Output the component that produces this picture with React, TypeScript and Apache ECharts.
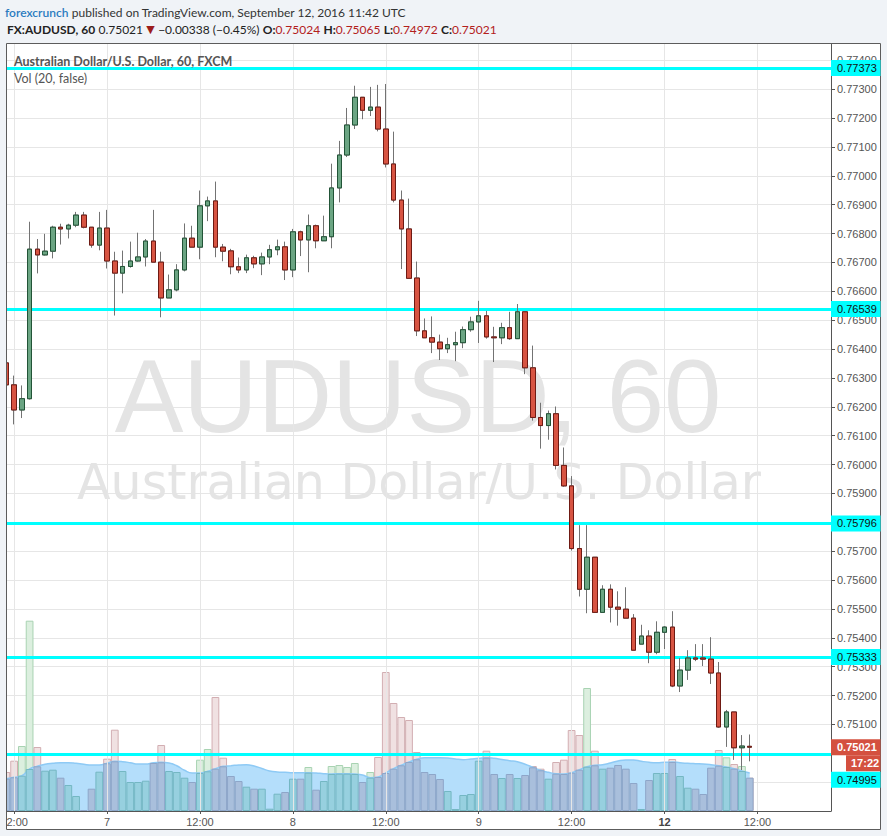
import React, { useEffect, useRef } from "react";
import * as echarts from "echarts";

// ---- data (hourly AUDUSD candles, FXCM) ----
const OPEN = [
  0.76352, 0.76276, 0.76189, 0.76228, 0.76746, 0.76726, 0.76739, 0.76822, 0.76816, 0.76829,
  0.76864, 0.76822, 0.7676, 0.76819, 0.76705, 0.76663, 0.76686, 0.76705, 0.76719, 0.76774,
  0.76701, 0.76577, 0.76605, 0.76674, 0.76784, 0.76753, 0.76896, 0.76913, 0.76753, 0.7674,
  0.76685, 0.76674, 0.76716, 0.76695, 0.76719, 0.76744, 0.76754, 0.76674, 0.76806, 0.76778,
  0.76827, 0.76775, 0.76789, 0.76958, 0.77072, 0.77176, 0.77272, 0.77227, 0.77238, 0.77162,
  0.77041, 0.76916, 0.76816, 0.76646, 0.76463, 0.76439, 0.76424, 0.76401, 0.76415, 0.76422,
  0.76467, 0.76494, 0.76515, 0.76442, 0.76439, 0.76474, 0.76436, 0.76529, 0.76335, 0.76163,
  0.76135, 0.76176, 0.75997, 0.75926, 0.75709, 0.75568, 0.75679, 0.75488, 0.75568, 0.75506,
  0.75499, 0.75468, 0.75378, 0.75406, 0.7535, 0.75419, 0.75437, 0.75233, 0.75288, 0.7533,
  0.7533, 0.75326, 0.75278, 0.75091, 0.75143, 0.75019, 0.75024,
];
const CLOSE = [
  0.76276, 0.76189, 0.76228, 0.76746, 0.76726, 0.76739, 0.76822, 0.76816, 0.76829, 0.76864,
  0.76822, 0.7676, 0.76819, 0.76705, 0.76663, 0.76686, 0.76705, 0.76719, 0.76774, 0.76701,
  0.76577, 0.76605, 0.76674, 0.76784, 0.76753, 0.76896, 0.76913, 0.76753, 0.76739, 0.76685,
  0.76674, 0.76716, 0.76695, 0.76719, 0.76744, 0.76754, 0.76674, 0.76806, 0.76778, 0.76827,
  0.76775, 0.76789, 0.76958, 0.77072, 0.77176, 0.77272, 0.77227, 0.77238, 0.77162, 0.77041,
  0.76916, 0.76816, 0.76645, 0.76463, 0.76439, 0.76424, 0.76401, 0.76415, 0.76422, 0.76467,
  0.76494, 0.76515, 0.76442, 0.76439, 0.76474, 0.76436, 0.76529, 0.76335, 0.76163, 0.76135,
  0.76176, 0.75997, 0.75926, 0.75709, 0.75568, 0.75679, 0.75488, 0.75568, 0.75506, 0.75499,
  0.75468, 0.75357, 0.75406, 0.7535, 0.75419, 0.75437, 0.75233, 0.75288, 0.7533, 0.75326,
  0.75326, 0.75278, 0.75091, 0.75143, 0.75019, 0.75025, 0.75021,
];
const LOW = [
  0.76266, 0.76139, 0.76161, 0.76225, 0.76662, 0.76724, 0.76714, 0.76762, 0.76783, 0.76822,
  0.76818, 0.76751, 0.76742, 0.76679, 0.76516, 0.76593, 0.76682, 0.76703, 0.76686, 0.76701,
  0.7651, 0.76577, 0.766, 0.76669, 0.76753, 0.76711, 0.76843, 0.76718, 0.76704, 0.76659,
  0.76663, 0.76663, 0.7668, 0.76656, 0.76694, 0.76725, 0.76639, 0.76649, 0.76722, 0.76666,
  0.76749, 0.76775, 0.76749, 0.76908, 0.77065, 0.77162, 0.77196, 0.77207, 0.77154, 0.77029,
  0.76908, 0.76677, 0.76643, 0.76445, 0.76439, 0.76386, 0.76362, 0.76386, 0.76358, 0.76403,
  0.7646, 0.76421, 0.76436, 0.76355, 0.76417, 0.76432, 0.76436, 0.76313, 0.76152, 0.76055,
  0.76086, 0.75983, 0.75923, 0.75702, 0.75543, 0.75485, 0.75488, 0.75488, 0.75453, 0.75442,
  0.75468, 0.75357, 0.75378, 0.75312, 0.75343, 0.75361, 0.75229, 0.75212, 0.75254, 0.75319,
  0.75302, 0.7524, 0.75088, 0.75022, 0.74977, 0.74942, 0.74972,
];
const HIGH = [
  0.76359, 0.76308, 0.76274, 0.76841, 0.76781, 0.76799, 0.76827, 0.76834, 0.76834, 0.76875,
  0.76875, 0.76822, 0.76875, 0.76882, 0.76737, 0.76741, 0.76772, 0.76803, 0.76781, 0.76882,
  0.76737, 0.76658, 0.76694, 0.76835, 0.76827, 0.76949, 0.76928, 0.7698, 0.76764, 0.76747,
  0.76717, 0.76727, 0.76723, 0.76734, 0.76761, 0.76779, 0.76772, 0.76816, 0.7681, 0.76866,
  0.76831, 0.76862, 0.77042, 0.77121, 0.77235, 0.77312, 0.77272, 0.77308, 0.77315, 0.77318,
  0.77153, 0.76949, 0.76921, 0.76703, 0.76506, 0.76513, 0.7645, 0.76439, 0.7646, 0.76478,
  0.76512, 0.76567, 0.76532, 0.76477, 0.76491, 0.76529, 0.76556, 0.76529, 0.76412, 0.76214,
  0.76187, 0.76201, 0.76059, 0.7596, 0.7579, 0.7579, 0.75679, 0.75582, 0.75585, 0.75561,
  0.75575, 0.75482, 0.75445, 0.75426, 0.75457, 0.7544, 0.75492, 0.7533, 0.75357, 0.75378,
  0.75378, 0.75402, 0.75316, 0.7515, 0.75143, 0.75063, 0.75065,
];
const VOLUME = [
  390, 503, 650, 1903, 640, 403, 413, 333, 260, 150,
  10, 223, 393, 523, 813, 400, 290, 290, 303, 480,
  660, 400, 390, 333, 290, 513, 620, 1140, 533, 350,
  300, 243, 223, 223, 23, 173, 190, 323, 323, 440,
  213, 300, 450, 460, 440, 480, 290, 390, 540, 1390,
  1080, 940, 910, 590, 390, 370, 320, 200, 20, 160,
  170, 503, 603, 370, 330, 370, 330, 360, 450, 423,
  323, 490, 513, 810, 760, 1230, 603, 423, 433, 460,
  423, 280, 20, 310, 380, 380, 520, 350, 233, 223,
  170, 433, 610, 537, 470, 450, 333,
];
const VOLUME_MA = [
  323, 337, 353, 420, 447, 467, 477, 483, 483, 477,
  467, 460, 460, 477, 497, 493, 483, 470, 470, 483,
  487, 480, 453, 407, 380, 380, 397, 423, 447, 453,
  460, 463, 450, 425, 400, 390, 387, 383, 383, 383,
  380, 373, 370, 373, 373, 370, 360, 333, 340, 380,
  423, 457, 490, 517, 533, 533, 533, 530, 520, 513,
  520, 527, 533, 527, 515, 503, 493, 467, 437, 407,
  387, 373, 370, 383, 413, 443, 457, 463, 480, 500,
  510, 510, 497, 487, 483, 487, 490, 483, 477, 473,
  470, 463, 453, 440, 423, 400, 380,
];
const LEVELS = [0.77373, 0.76539, 0.75796, 0.75333, 0.74995];
const LAST_PRICE = 0.75021;
const COUNTDOWN = "17:22";
const X_LABELS: Record<string, string> = {
  "09-06 12:00": "12:00",
  "09-07 00:00": "7",
  "09-07 12:00": "12:00",
  "09-08 00:00": "8",
  "09-08 12:00": "12:00",
  "09-09 00:00": "9",
  "09-09 12:00": "12:00",
  "09-12 00:00": "{b|12}",
  "09-12 12:00": "12:00",
};
const SLOT_COUNT = 107;
const PRICE_MIN = 0.748;
const PRICE_MAX = 0.7746;
const PRICE_STEP = 0.001;
const VOL_AXIS_MAX = 7680;

// hourly slots starting 6 Sep 2016 11:00 UTC, market closed Fri 21:00 - Sun 21:00
function buildSlots(count: number): string[] {
  const out: string[] = [];
  let t = Date.UTC(2016, 8, 6, 11);
  const p = (n: number) => String(n).padStart(2, "0");
  while (out.length < count) {
    const d = new Date(t);
    const day = d.getUTCDay();
    const h = d.getUTCHours();
    const closed = (day === 5 && h >= 21) || day === 6 || (day === 0 && h < 21);
    if (!closed) out.push(`${p(d.getUTCMonth() + 1)}-${p(d.getUTCDate())} ${p(h)}:00`);
    t += 3600000;
  }
  return out;
}

const PAGE_BG = "#f0f3f7";
const UP = "#6ba583";
const DOWN = "#d75442";
const UP_BORDER = "#225437";
const DOWN_BORDER = "#6f1a13";
const WICK = "#737373";
const UI_FONT = "Lato";
const AXIS_FONT = "Liberation Sans";

function buildOption() {
  const cats = buildSlots(SLOT_COUNT);
  const isUp = (i: number) => CLOSE[i] >= OPEN[i];
  const wickData = OPEN.map((o, i) => [o, CLOSE[i], LOW[i], HIGH[i]]);
  const bodyData = OPEN.map((o, i) => [o, CLOSE[i], Math.min(o, CLOSE[i]), Math.max(o, CLOSE[i])]);
  const volFull = VOLUME.map((v, i) => ({
    value: v,
    itemStyle: isUp(i)
      ? { color: "#dcefdf", borderColor: "#a8d3b2", borderWidth: 1 }
      : { color: "#f0e1e2", borderColor: "#d2aeb2", borderWidth: 1 },
  }));
  const volLow = VOLUME.map((v, i) => ({
    value: Math.min(v, VOLUME_MA[i]),
    itemStyle: isUp(i)
      ? { color: "#97d0df", borderColor: "#74b7c3", borderWidth: 1 }
      : { color: "#a9bfdc", borderColor: "#8ea6c9", borderWidth: 1 },
  }));
  const labelShown = (_: number, v: string) => v in X_LABELS;

  return {
    animation: false,
    backgroundColor: "#ffffff",
    grid: { left: 2.5, right: 56, top: 43, bottom: 25, outerBoundsMode: "none", containLabel: false },
    xAxis: {
      type: "category",
      data: cats,
      boundaryGap: true,
      axisLine: { show: true, lineStyle: { color: "#555555", width: 1 } },
      axisTick: { show: true, alignWithLabel: true, interval: labelShown, length: 3, lineStyle: { color: "#555555" } },
      axisLabel: {
        interval: labelShown,
        formatter: (v: string) => X_LABELS[v] ?? "",
        color: "#555555",
        fontSize: 11,
        fontFamily: AXIS_FONT,
        margin: 5,
        rich: { b: { fontWeight: "bold", fontSize: 11, fontFamily: AXIS_FONT, color: "#444444" } },
      },
      splitLine: { show: false },
    },
    yAxis: [
      {
        type: "value",
        position: "right",
        min: PRICE_MIN,
        max: PRICE_MAX,
        interval: PRICE_STEP,
        axisLine: { show: true, lineStyle: { color: "#555555", width: 1 } },
        axisTick: { show: true, length: 4, lineStyle: { color: "#555555" } },
        axisLabel: {
          color: "#555555",
          fontSize: 11,
          fontFamily: AXIS_FONT,
          margin: 6,
          showMaxLabel: false,
          showMinLabel: false,
          formatter: (v: number) => (v < 0.7505 ? "" : v.toFixed(5)),
        },
        splitLine: { show: true, lineStyle: { color: "#e6e6e6", width: 1 } },
      },
      { type: "value", min: 0, max: VOL_AXIS_MAX, show: false, splitLine: { show: false } },
    ],
    series: [
      {
        name: "grid",
        type: "line",
        data: [],
        z: 1,
        silent: true,
        markLine: {
          silent: true,
          symbol: ["none", "none"],
          label: { show: false },
          emphasis: { disabled: true },
          lineStyle: { color: "#e6e6e6", width: 1, type: "solid" },
          data: Object.keys(X_LABELS).map((k) => ({ xAxis: k })),
        },
      },
      {
        name: "Vol",
        type: "bar",
        yAxisIndex: 1,
        data: volFull,
        barWidth: "100%",
        barGap: "-100%",
        z: 2,
        silent: true,
      },
      {
        name: "Vol MA",
        type: "line",
        yAxisIndex: 1,
        data: VOLUME_MA,
        smooth: true,
        symbol: "none",
        lineStyle: { color: "#8ecaf5", width: 1.5 },
        areaStyle: { color: "#b4defb", opacity: 1 },
        z: 3,
        silent: true,
      },
      {
        name: "Vol low",
        type: "bar",
        yAxisIndex: 1,
        data: volLow,
        barWidth: "100%",
        barGap: "-100%",
        z: 4,
        silent: true,
      },
      {
        name: "wick",
        type: "candlestick",
        data: wickData,
        barWidth: 5,
        z: 5,
        silent: true,
        itemStyle: { color: WICK, color0: WICK, borderColor: WICK, borderColor0: WICK, borderWidth: 1 },
      },
      {
        name: "AUDUSD",
        type: "candlestick",
        data: bodyData,
        barWidth: 5,
        z: 6,
        silent: true,
        itemStyle: {
          color: UP,
          color0: DOWN,
          borderColor: UP_BORDER,
          borderColor0: DOWN_BORDER,
          borderColorDoji: DOWN_BORDER,
          borderWidth: 1,
        },
        markLine: {
          silent: true,
          precision: 5,
          symbol: ["none", "none"],
          label: { show: false },
          emphasis: { disabled: true },
          lineStyle: { color: "#00ffff", width: 3, type: "solid", opacity: 1 },
          data: LEVELS.map((v) => ({ yAxis: v })),
        },
      },
    ],
  };
}

function buildOverlay(chart: echarts.ECharts) {
  const py = (v: number) => chart.convertToPixel({ yAxisIndex: 0 }, v) as number;
  const els: any[] = [];
  // watermark
  els.push({
    type: "text", z: 0, silent: true, x: 418, y: 396,
    style: { text: "AUDUSD, 60", fontSize: 103, fontFamily: "Liberation Sans", fill: "#e4e4e4", align: "center", verticalAlign: "middle" },
  });
  els.push({
    type: "text", z: 0, silent: true, x: 419, y: 482,
    style: { text: "Australian Dollar/U.S. Dollar", fontSize: 49, fontFamily: "DejaVu Sans", fill: "#e4e4e4", align: "center", verticalAlign: "middle" },
  });
  // legend
  els.push({
    type: "text", z: 50, silent: true, x: 14, y: 61,
    style: { text: "Australian Dollar/U.S. Dollar, 60, FXCM", fontSize: 12.5, fontWeight: "bold", fontFamily: UI_FONT, fill: "#555555", verticalAlign: "middle" },
  });
  els.push({
    type: "text", z: 50, silent: true, x: 14, y: 78,
    style: { text: "Vol (20, false)", fontSize: 12.5, fontFamily: UI_FONT, fill: "#555555", verticalAlign: "middle" },
  });
  // page margins
  const bg = (x: number, y: number, w: number, h: number) => ({
    type: "rect", z: 90, silent: true, shape: { x, y, width: w, height: h }, style: { fill: PAGE_BG },
  });
  els.push(bg(0, 0, 887, 43), bg(0, 0, 6.5, 836), bg(880.5, 0, 6.5, 836), bg(0, 829.5, 887, 6.5));
  els.push({
    type: "rect", z: 91, silent: true,
    shape: { x: 6.5, y: 43.5, width: 874, height: 786 },
    style: { fill: "none", stroke: "#5c5c5c", lineWidth: 1 },
  });
  // header
  els.push({
    type: "text", z: 95, silent: true, x: 5, y: 12,
    style: {
      text: "{a|forexcrunch} {b|published on TradingView.com, September 12, 2016 11:42 UTC}",
      verticalAlign: "middle",
      rich: {
        a: { fontSize: 12, fontFamily: UI_FONT, fill: "#2b7cc0", fontWeight: 600 },
        b: { fontSize: 12, fontFamily: UI_FONT, fill: "#333333" },
      },
    },
  });
  els.push({
    type: "text", z: 95, silent: true, x: 7, y: 29.5,
    style: {
      text: "{k|FX:AUDUSD, 60} {n|0.75021} {t|▼} {n|−0.00338 (−0.45%)} {k|O:}{r|0.75024} {k|H:}{r|0.75065} {k|L:}{r|0.74972} {k|C:}{r|0.75021}",
      verticalAlign: "middle",
      rich: {
        k: { fontSize: 12, fontFamily: UI_FONT, fill: "#222222", fontWeight: "bold" },
        n: { fontSize: 12, fontFamily: UI_FONT, fill: "#222222" },
        t: { fontSize: 11, fontFamily: "DejaVu Sans", fill: "#9c1c1c" },
        r: { fontSize: 12, fontFamily: UI_FONT, fill: "#b3201c" },
      },
    },
  });
  // level tags on the price scale
  LEVELS.forEach((v, i) => {
    const y = py(v) + (i === LEVELS.length - 1 ? 25 : 0);
    els.push({
      type: "rect", z: 96, silent: true,
      shape: { x: 831, y: y - 8, width: 49.5, height: 16 },
      style: { fill: "#00ffff" },
    });
    els.push({
      type: "text", z: 97, silent: true, x: 837, y,
      style: { text: v.toFixed(5), fontSize: 11, fontFamily: AXIS_FONT, fill: "#111111", verticalAlign: "middle" },
    });
  });
  const ly = py(LAST_PRICE);
  els.push({
    type: "rect", z: 98, silent: true,
    shape: { x: 831, y: ly - 8, width: 49.5, height: 16 },
    style: { fill: "#d4503f" },
  });
  els.push({
    type: "text", z: 99, silent: true, x: 837, y: ly,
    style: { text: LAST_PRICE.toFixed(5), fontSize: 11, fontWeight: "bold", fontFamily: AXIS_FONT, fill: "#ffffff", verticalAlign: "middle" },
  });
  els.push({
    type: "rect", z: 98, silent: true,
    shape: { x: 846, y: ly + 8, width: 34.5, height: 16 },
    style: { fill: "#d4503f" },
  });
  els.push({
    type: "text", z: 99, silent: true, x: 851, y: ly + 16,
    style: { text: COUNTDOWN, fontSize: 11, fontWeight: "bold", fontFamily: AXIS_FONT, fill: "#ffffff", verticalAlign: "middle" },
  });
  return els;
}

export default function App() {
  const ref = useRef<HTMLDivElement>(null);
  useEffect(() => {
    if (!ref.current) return;
    const chart = echarts.init(ref.current, null, { renderer: "svg" });
    chart.setOption(buildOption() as any);
    chart.setOption({ graphic: buildOverlay(chart) } as any);
    return () => chart.dispose();
  }, []);
  return <div ref={ref} style={{ position: "fixed", left: 0, top: 0, width: 887, height: 836 }} />;
}
